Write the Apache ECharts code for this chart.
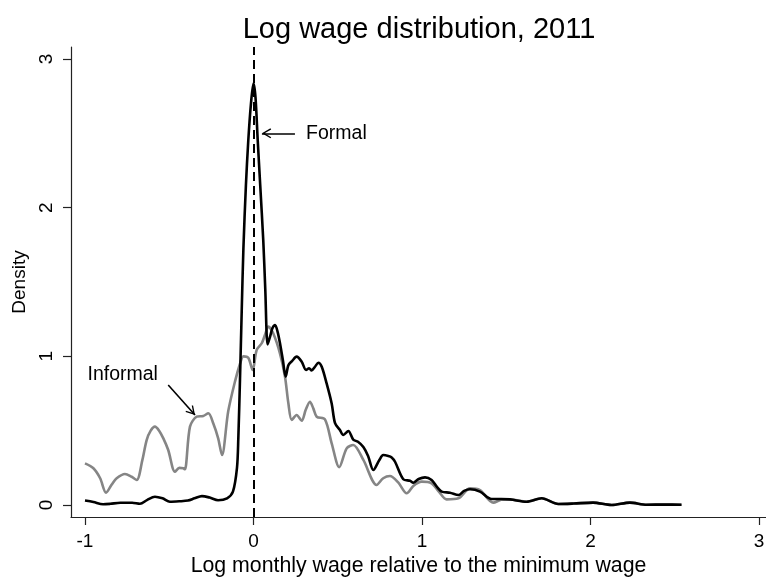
<!DOCTYPE html>
<html>
<head>
<meta charset="utf-8">
<script src="https://cdn.jsdelivr.net/npm/echarts@6/dist/echarts.min.js"></script>
<style>
  html, body { margin: 0; padding: 0; background: #fff; }
  #chart { width: 766px; height: 579px; }
</style>
</head>
<body>
<div id="chart"></div>
<script>
// Kernel density of log monthly wage relative to the minimum wage, 2011

// Formal-sector density
const formalX = [-1.0, -0.95, -0.893, -0.85, -0.79, -0.72, -0.674, -0.63, -0.585, -0.54,
  -0.496, -0.44, -0.389, -0.35, -0.306, -0.26, -0.21, -0.157, -0.122, -0.098,
  -0.09, -0.08, -0.07, -0.06, -0.045, -0.031, -0.015, 0, 0.012, 0.025,
  0.04, 0.058, 0.07, 0.084, 0.1, 0.113, 0.128, 0.142, 0.157, 0.175,
  0.191, 0.207, 0.23, 0.256, 0.286, 0.312, 0.33, 0.345, 0.365, 0.385,
  0.405, 0.434, 0.464, 0.484, 0.513, 0.533, 0.563, 0.592, 0.62, 0.652,
  0.68, 0.711, 0.747, 0.77, 0.8, 0.82, 0.84, 0.889, 0.929, 0.948,
  0.98, 1.018, 1.057, 1.09, 1.117, 1.166, 1.216, 1.25, 1.285, 1.344,
  1.413, 1.47, 1.522, 1.621, 1.71, 1.809, 1.9, 2.015, 2.125, 2.234,
  2.333, 2.44, 2.54];
const formalY = [0.03, 0.02, 0.005, 0.008, 0.015, 0.015, 0.008, 0.035, 0.056, 0.045,
  0.022, 0.025, 0.03, 0.045, 0.06, 0.05, 0.032, 0.045, 0.09, 0.25,
  0.45, 0.85, 1.3, 1.72, 2.15, 2.45, 2.7, 2.836, 2.74, 2.455,
  2.15, 1.78, 1.45, 1.08, 1.14, 1.19, 1.21, 1.17, 1.09, 0.97,
  0.863, 0.94, 0.97, 0.998, 0.964, 0.908, 0.92, 0.905, 0.93, 0.957,
  0.93, 0.818, 0.683, 0.55, 0.504, 0.471, 0.498, 0.44, 0.425, 0.39,
  0.33, 0.235, 0.303, 0.336, 0.33, 0.32, 0.291, 0.173, 0.163, 0.15,
  0.175, 0.186, 0.168, 0.12, 0.09, 0.083, 0.067, 0.095, 0.106, 0.09,
  0.04, 0.04, 0.038, 0.022, 0.045, 0.007, 0.01, 0.016, 0.0, 0.016,
  0.002, 0.003, 0.002];

// Informal-sector density
const informalX = [-1.0, -0.95, -0.91, -0.875, -0.84, -0.812, -0.763, -0.723, -0.693, -0.66,
  -0.634, -0.61, -0.585, -0.56, -0.535, -0.506, -0.466, -0.44, -0.417, -0.407,
  -0.377, -0.337, -0.298, -0.268, -0.239, -0.21, -0.187, -0.15, -0.11, -0.08,
  -0.06, -0.031, -0.005, 0.019, 0.049, 0.07, 0.088, 0.117, 0.157, 0.187,
  0.207, 0.227, 0.256, 0.286, 0.31, 0.335, 0.355, 0.375, 0.424, 0.464,
  0.509, 0.553, 0.592, 0.652, 0.731, 0.77, 0.81, 0.86, 0.909, 0.95,
  0.998, 1.057, 1.1, 1.146, 1.216, 1.285, 1.344, 1.423, 1.47, 1.522,
  1.621, 1.71, 1.809, 1.9, 2.015, 2.125, 2.234, 2.333, 2.44, 2.54];
const informalY = [0.28, 0.247, 0.18, 0.083, 0.14, 0.18, 0.209, 0.19, 0.168, 0.3,
  0.437, 0.5, 0.527, 0.5, 0.448, 0.37, 0.224, 0.25, 0.247, 0.24,
  0.527, 0.594, 0.599, 0.617, 0.55, 0.45, 0.336, 0.63, 0.83, 0.95,
  1.0, 0.99, 0.908, 1.043, 1.088, 1.15, 1.2, 1.155, 1.02, 0.863,
  0.684, 0.572, 0.605, 0.567, 0.64, 0.695, 0.65, 0.594, 0.576, 0.415,
  0.254, 0.381, 0.404, 0.303, 0.135, 0.18, 0.195, 0.15, 0.079, 0.13,
  0.157, 0.146, 0.09, 0.038, 0.045, 0.112, 0.1, 0.016, 0.035, 0.038,
  0.022, 0.045, 0.007, 0.01, 0.016, 0.0, 0.016, 0.002, 0.003, 0.002];

// Axis ticks
const xTicks = [-1, 0, 1, 2, 3];
const yTicks = [0, 1, 2, 3];

// Annotation anchors (data coordinates)
const minWageX = 0;
const formalArrow = [[0.246, 2.5], [0.05, 2.5]];
const formalText = [0.312, 2.5];
const informalArrow = [[-0.506, 0.807], [-0.347, 0.605]];
const informalText = [-0.985, 0.874];

const FONT = 'Liberation Sans, Arial, Helvetica, sans-serif';
const GRAY = '#858585';
// Open chevron; an invisible point above the tip keeps the tip at the symbol centre
const openArrow = 'path://M5,0L10,8.5L8.9,9.3L5,2.7L1.1,9.3L0,8.5Z M5,-9.3L5.01,-9.3L5,-9.29Z';

const zip = (xs, ys) => xs.map((x, i) => [x, ys[i]]);

const chart = echarts.init(document.getElementById('chart'), null, { renderer: 'canvas' });

chart.setOption({
  animation: false,
  backgroundColor: '#fff',
  textStyle: { fontFamily: FONT },
  title: {
    text: 'Log wage distribution, 2011',
    left: 414,
    textAlign: 'center',
    top: 10,
    textStyle: { fontFamily: FONT, fontSize: 29, fontWeight: 'normal', color: '#000' }
  },
  grid: { left: 71, right: 0, top: 47, bottom: 62, containLabel: false, outerBoundsMode: 'none' },
  xAxis: {
    type: 'value',
    min: -1.083,
    max: 3.0415,
    name: 'Log monthly wage relative to the minimum wage',
    nameLocation: 'middle',
    nameGap: 36,
    nameTextStyle: { fontFamily: FONT, fontSize: 21.3, color: '#000' },
    axisLine: { show: true, onZero: false, lineStyle: { color: '#222', width: 1.2 } },
    axisTick: { show: true, customValues: xTicks, length: 8, lineStyle: { color: '#222', width: 1.2 } },
    axisLabel: { customValues: xTicks, fontSize: 19, color: '#000', margin: 15, fontFamily: FONT },
    splitLine: { show: false }
  },
  yAxis: {
    type: 'value',
    min: -0.0807,
    max: 3.0807,
    name: 'Density',
    nameLocation: 'middle',
    nameRotate: 90,
    nameGap: 39,
    nameTextStyle: { fontFamily: FONT, fontSize: 19, color: '#000' },
    axisLine: { show: true, onZero: false, lineStyle: { color: '#222', width: 1.2 } },
    axisTick: { show: true, customValues: yTicks, length: 8, lineStyle: { color: '#222', width: 1.2 } },
    axisLabel: { customValues: yTicks, rotate: 90, fontSize: 19, color: '#000', margin: 15, fontFamily: FONT },
    splitLine: { show: false }
  },
  series: [
    {
      name: 'Informal',
      type: 'line',
      data: zip(informalX, informalY),
      showSymbol: false,
      smooth: 0.3,
      lineStyle: { color: GRAY, width: 2.6 },
      z: 2,
      markLine: {
        silent: true,
        animation: false,
        lineStyle: { color: '#000', width: 1.6, type: 'solid' },
        label: { show: false },
        symbolSize: [10, 18.6],
        data: [
          [
            { coord: formalArrow[0], symbol: 'none' },
            { coord: formalArrow[1], symbol: openArrow }
          ],
          [
            { coord: informalArrow[0], symbol: 'none' },
            { coord: informalArrow[1], symbol: openArrow }
          ]
        ]
      },
      markPoint: {
        silent: true,
        symbol: 'circle',
        symbolSize: 0,
        label: {
          show: true,
          position: 'right',
          distance: 0,
          color: '#000',
          fontSize: 19.5,
          fontFamily: FONT,
          formatter: (p) => p.name
        },
        data: [
          { name: 'Formal', coord: formalText },
          { name: 'Informal', coord: informalText }
        ]
      }
    },
    {
      name: 'Formal',
      type: 'line',
      data: zip(formalX, formalY),
      showSymbol: false,
      smooth: 0.3,
      lineStyle: { color: '#000', width: 2.6 },
      z: 3,
      markLine: {
        silent: true,
        animation: false,
        symbol: 'none',
        label: { show: false },
        lineStyle: { color: '#000', width: 2, type: [9, 5] },
        data: [{ xAxis: minWageX }]
      }
    }
  ]
});
</script>
</body>
</html>
